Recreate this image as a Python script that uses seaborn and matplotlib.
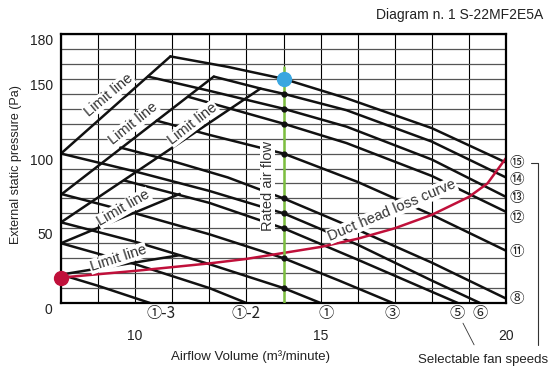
import numpy as np
import pandas as pd
import matplotlib
matplotlib.use('Agg')
import matplotlib.pyplot as plt
import seaborn as sns

# ---- data (airflow m3/min, static pressure Pa) ----
sp15_q = [10.95, 12.5, 14.0, 15.7, 18.0, 20.0]
sp15_p = [165, 158, 150, 137, 117, 94]
sp14_q = [12.12, 13.38, 14.0, 15.7, 18.0, 20.0]
sp14_p = [151.5, 143.5, 140, 129, 108, 84]
sp13_q = [10.35, 12.0, 14.0, 15.7, 18.0, 20.0]
sp13_p = [151.5, 142, 130, 118, 96, 71]
sp12_q = [11.43, 12.43, 14.0, 15.7, 18.0, 20.0]
sp12_p = [138, 131, 120, 107, 85, 61]
sp11_q = [10.58, 12.0, 14.0, 16.0, 18.0, 20.0]
sp11_p = [122, 112.5, 100, 81, 59, 35]
sp8_q = [9.6, 11.0, 12.5, 14.0, 16.0, 18.0, 20.0]
sp8_p = [104, 95, 84, 70, 49, 27, 3]
sp6_q = [8.0, 10.0, 12.0, 14.0, 16.0, 18.0, 19.3]
sp6_p = [100, 88, 75, 60, 39, 15, 0]
sp5_q = [9.7, 12.0, 14.0, 16.0, 18.7]
sp5_p = [82, 67, 50, 29, 0]
sp3_q = [8.0, 10.0, 12.0, 14.0, 15.5, 16.95]
sp3_p = [73, 60, 46, 30, 15, 0]
sp1_q = [8.0, 10.0, 12.0, 14.0, 15.0]
sp1_p = [54, 41, 26, 10, 0]
sp1_2_q = [8.0, 10.0, 12.0, 13.0]
sp1_2_p = [40, 26, 10, 0]
sp1_3_q = [8.0, 9.0, 10.4]
sp1_3_p = [19, 11.5, 0]

lim1_q, lim1_p = [8.0, 10.95], [100, 165]
lim2_q, lim2_p = [8.0, 12.12], [72.5, 151.5]
lim3_q, lim3_p = [8.0, 13.38], [54, 143.5]
lim4_q, lim4_p = [8.0, 11.2], [40, 73]
lim5_q, lim5_p = [8.0, 11.2], [19, 32]

duct_q = [8, 10, 11, 12, 13, 14, 15, 16, 17, 18, 19, 19.5, 20]
duct_p = [17, 21.5, 24, 26.5, 29.5, 33.5, 37.5, 43, 50, 59, 71, 80, 97]

rated_q = 14.0
rated_top = 158
rated_point_p = 150
rated_dots_p = [140, 130, 120, 100, 70, 60, 50, 30, 10]

right_labels = ['⑮', '⑭', '⑬', '⑫', '⑪', '⑧']
right_label_p = [94, 82.5, 70, 57, 34, 3]
bottom_labels = ['①-3', '①-2', '①', '③', '⑤', '⑥']
bottom_label_q = [10.7, 13.0, 15.15, 16.93, 18.69, 19.3]

x_ticks = [10, 15, 20]
y_ticks = [0, 50, 100, 150, 180]

curves = {
    '15': (sp15_q, sp15_p), '14': (sp14_q, sp14_p), '13': (sp13_q, sp13_p),
    '12': (sp12_q, sp12_p), '11': (sp11_q, sp11_p), '8': (sp8_q, sp8_p),
    '6': (sp6_q, sp6_p), '5': (sp5_q, sp5_p), '3': (sp3_q, sp3_p),
    '1': (sp1_q, sp1_p), '1-2': (sp1_2_q, sp1_2_p), '1-3': (sp1_3_q, sp1_3_p),
}
limits = {'L1': (lim1_q, lim1_p), 'L2': (lim2_q, lim2_p), 'L3': (lim3_q, lim3_p),
          'L4': (lim4_q, lim4_p), 'L5': (lim5_q, lim5_p)}

fan_df = pd.concat([pd.DataFrame({'q': q, 'p': p, 'speed': k}) for k, (q, p) in curves.items()])
lim_df = pd.concat([pd.DataFrame({'q': q, 'p': p, 'line': k}) for k, (q, p) in limits.items()])
duct_df = pd.DataFrame({'q': duct_q, 'p': duct_p})

sns.set_theme(style='white')
plt.rcParams['font.family'] = ['Liberation Sans', 'DejaVu Sans']
circ_font = ['Noto Sans CJK JP', 'DejaVu Sans']

fig = plt.figure(figsize=(5.6, 3.69), dpi=100)
ax = fig.add_axes([61 / 560, 1 - 303 / 369, 445 / 560, 269 / 369])
ax.set_xlim(8, 20)
ax.set_ylim(0, 180)

# grid: 1 m3/min and 10 Pa
ax.set_xticks(x_ticks)
ax.set_yticks(y_ticks)
ax.set_xticks(np.arange(8, 21, 1), minor=True)
ax.set_yticks(np.arange(0, 181, 10), minor=True)
ax.set_axisbelow(True)
ax.grid(axis='x', which='both', color='black', lw=0.8)
ax.grid(axis='y', which='both', color='#555555', lw=0.9)
ax.tick_params(which='both', length=0)
ax.tick_params(axis='x', pad=19, labelsize=10, colors='#222222')
ax.tick_params(axis='y', pad=6, labelsize=10, colors='#222222')
for lab in ax.get_yticklabels():
    lab.set_va('top')
for s in ax.spines.values():
    s.set_color('black')
    s.set_linewidth(1.6)

# fan curves and limit lines
sns.lineplot(data=lim_df, x='q', y='p', units='line', estimator=None, sort=False,
             color='#111111', lw=1.8, ax=ax, legend=False, zorder=2)
sns.lineplot(data=fan_df, x='q', y='p', units='speed', estimator=None, sort=False,
             color='#111111', lw=1.8, ax=ax, legend=False, zorder=2)
sns.lineplot(data=duct_df, x='q', y='p', estimator=None, sort=False,
             color='#c0103a', lw=1.8, ax=ax, legend=False, zorder=2.5)
ax.plot(duct_q[0], duct_p[0], 'o', color='#c0103a', ms=10, zorder=5, clip_on=False)

# rated air flow line
ax.plot([rated_q, rated_q], [0, rated_top], color='#7dbf3f', lw=1.8, zorder=4)
ax.plot([rated_q] * len(rated_dots_p), rated_dots_p, 'o', color='#111111', ms=3.5, zorder=5)
ax.plot(rated_q, rated_point_p, 'o', color='#3aa6e0', ms=10, zorder=6)

box = dict(facecolor='white', edgecolor='none', pad=0.5)
txt = dict(color='#333333', fontsize=10.5, ha='center', va='center', zorder=3, bbox=box)
ax.text(9.29, 139, 'Limit line', rotation=40, **txt)
ax.text(9.95, 120, 'Limit line', rotation=39, **txt)
ax.text(11.55, 120, 'Limit line', rotation=38, **txt)
ax.text(9.69, 63.5, 'Limit line', rotation=30, **txt)
ax.text(9.54, 30, 'Limit line', rotation=18, **txt)
ax.text(13.57, 78, 'Rated air flow', rotation=90, **txt)
ax.text(16.93, 62, 'Duct head loss curve', rotation=23, **txt)

# fan speed markers
for lab, p in zip(right_labels, right_label_p):
    ax.text(20.3, p, lab, family=circ_font, fontsize=10.5, ha='center', va='center',
            color='#222222', clip_on=False)
for lab, q in zip(bottom_labels, bottom_label_q):
    ax.text(q, -7, lab, family=circ_font, fontsize=11, ha='center', va='center',
            color='#222222', clip_on=False)
ax.plot([20.68, 20.86, 20.86], [94, 94, -28], color='#333333', lw=0.8, clip_on=False)
ax.plot([18.84, 19.14], [-13.5, -28], color='#333333', lw=0.6, clip_on=False)
ax.text(19.38, -38, 'Selectable fan speeds', fontsize=9.5, ha='center', va='center',
        color='#222222', clip_on=False)

ax.set_xlabel('Airflow Volume (m³/minute)', fontsize=9.5, color='#222222')
ax.xaxis.set_label_coords(0.425, -0.175)
ax.set_ylabel('External static pressure (Pa)', fontsize=9, color='#222222')
ax.yaxis.set_label_coords(-0.088, 0.513)
fig.text(543 / 560, 1 - 15 / 369, 'Diagram n. 1 S-22MF2E5A', fontsize=10, ha='right',
         va='center', color='#222222')

fig.savefig('out.png', dpi=100)
